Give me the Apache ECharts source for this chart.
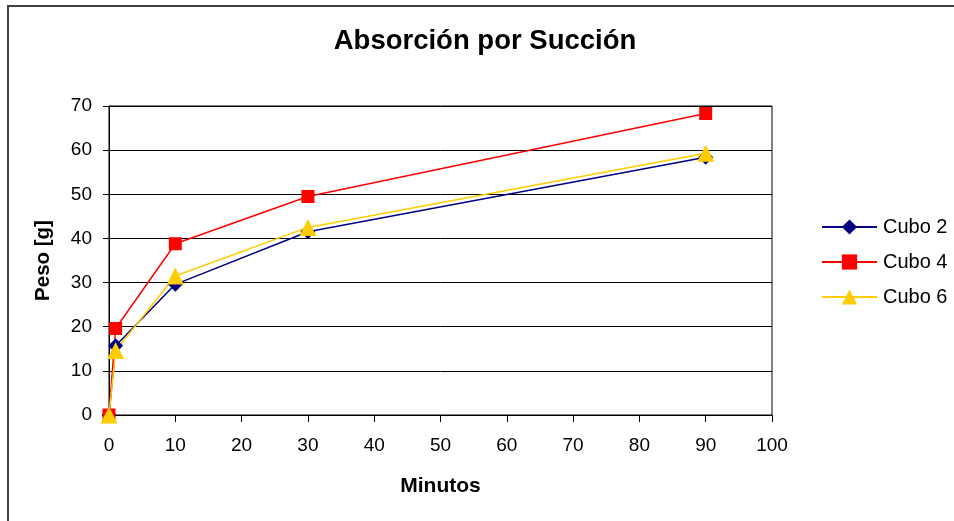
<!DOCTYPE html>
<html>
<head>
<meta charset="utf-8">
<script src="https://cdn.jsdelivr.net/npm/echarts@6/dist/echarts.min.js"></script>
<style>
  html, body { margin: 0; padding: 0; background: #fff; }
  #chart { width: 954px; height: 521px; }
</style>
</head>
<body>
<div id="chart"></div>
<script>
// Minutes of immersion and weight gained per cube
const minutos = [0, 1, 10, 30, 90];
const cubo2 = [0, 15.7, 29.6, 41.5, 58.4];
const cubo4 = [0, 19.6, 38.8, 49.5, 68.3];
const cubo6 = [0, 14.6, 31.5, 42.5, 59.3];
const seriesNames = ['Cubo 2', 'Cubo 4', 'Cubo 6'];

const pairs = (ys) => minutos.map((x, i) => [x, ys[i]]);
const FONT = '"Liberation Sans", Arial, sans-serif';

const chart = echarts.init(document.getElementById('chart'), null, { renderer: 'canvas' });

const mkSeries = (name, data, color, symbol, size) => ({
  name: name,
  type: 'line',
  data: pairs(data),
  symbol: symbol,
  symbolSize: size,
  showSymbol: true,
  lineStyle: { color: color, width: 1.5 },
  itemStyle: { color: color, borderWidth: 0 },
  emphasis: { disabled: true },
  animation: false
});

chart.setOption({
  backgroundColor: '#ffffff',
  animation: false,
  title: {
    text: 'Absorción por Succión',
    left: 480,
    textAlign: 'center',
    top: 22,
    textStyle: { fontFamily: FONT, fontSize: 27.5, fontWeight: 'bold', color: '#000' }
  },
  graphic: [{
    type: 'rect',
    shape: { x: 8, y: 6, width: 1000, height: 600 },
    style: { fill: 'none', stroke: '#404040', lineWidth: 2 },
    silent: true
  }],
  legend: {
    orient: 'vertical',
    left: 821,
    top: 217,
    padding: 0,
    itemWidth: 55,
    itemHeight: 19,
    itemGap: 15,
    textStyle: { fontFamily: FONT, fontSize: 20, color: '#000', padding: [0, 0, 0, 1] },
    data: seriesNames
  },
  grid: {
    left: 109, right: 182, top: 106, bottom: 106,
    show: true, borderColor: '#000', borderWidth: 1, backgroundColor: 'transparent'
  },
  xAxis: {
    type: 'value',
    min: 0, max: 100, interval: 10,
    name: 'Minutos',
    nameLocation: 'middle',
    nameGap: 61,
    nameTextStyle: { fontFamily: FONT, fontSize: 21, fontWeight: 'bold', color: '#000' },
    axisLine: { show: true, lineStyle: { color: '#000', width: 1 } },
    axisTick: { show: true, inside: false, length: 7, lineStyle: { color: '#000' } },
    axisLabel: { fontFamily: FONT, fontSize: 19, color: '#000', margin: 21 },
    splitLine: { show: false }
  },
  yAxis: {
    type: 'value',
    min: 0, max: 70, interval: 10,
    name: 'Peso [g]',
    nameLocation: 'middle',
    nameGap: 55,
    nameRotate: 90,
    nameTextStyle: { fontFamily: FONT, fontSize: 20.5, fontWeight: 'bold', color: '#000' },
    axisLine: { show: true, lineStyle: { color: '#000', width: 1 } },
    axisTick: { show: true, inside: false, length: 6, lineStyle: { color: '#000' } },
    axisLabel: { fontFamily: FONT, fontSize: 19, color: '#000', margin: 17 },
    splitLine: { show: true, lineStyle: { color: '#000', width: 1 } }
  },
  series: [
    mkSeries(seriesNames[0], cubo2, '#000080', 'diamond', 15),
    mkSeries(seriesNames[1], cubo4, '#ff0000', 'rect', 13),
    mkSeries(seriesNames[2], cubo6, '#ffcc00', 'triangle', 17)
  ]
});
</script>
</body>
</html>
